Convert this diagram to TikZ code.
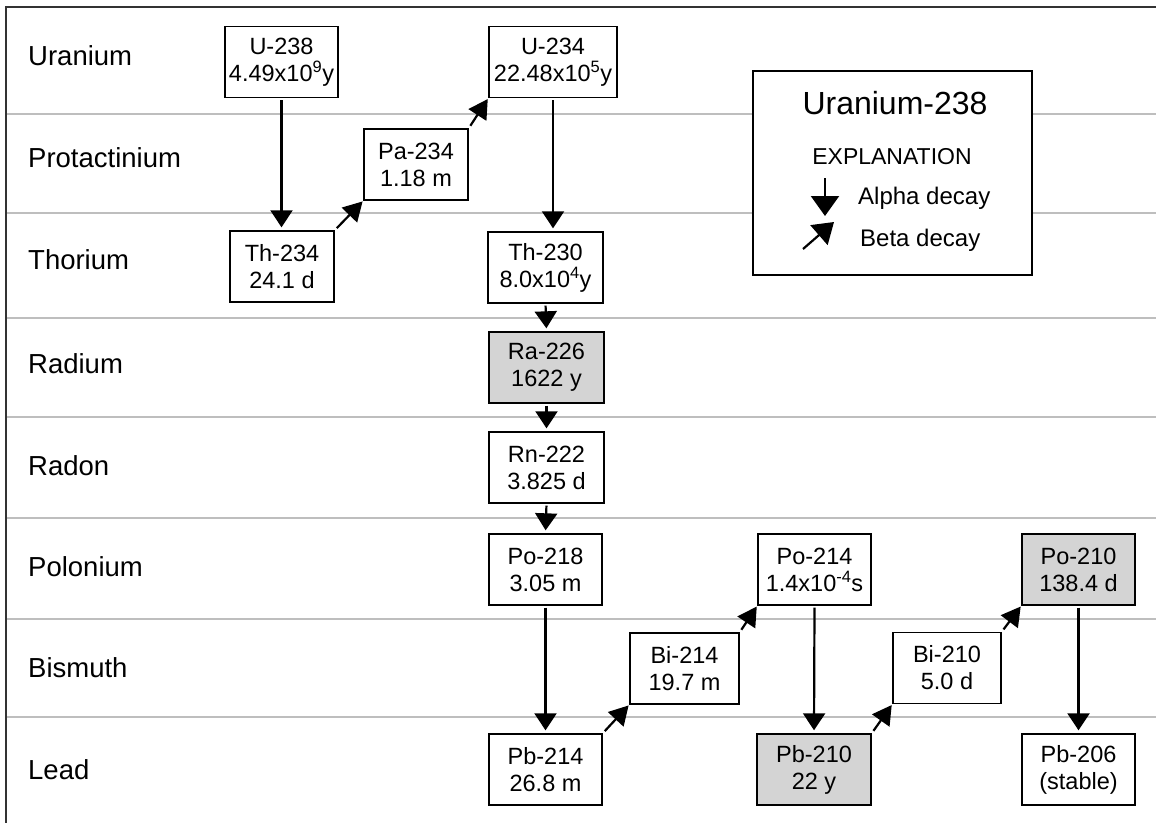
\documentclass[tikz,border=0pt]{standalone}
\usepackage{fontspec}
\setmainfont{Liberation Sans}
\usetikzlibrary{arrows.meta}

\definecolor{rowline}{RGB}{190,190,190}
\definecolor{isofill}{RGB}{212,212,212}

\begin{document}
\begin{tikzpicture}[x=1pt,y=1pt,yscale=-1,xscale=1,
  iso/.style={draw, line width=1.4pt, minimum height=71, inner sep=0pt, align=center, font=\fontsize{23.5}{27}\selectfont},
  hot/.style={iso, fill=isofill},
  alpha/.style={line width=2.2pt, -{Triangle[width=22pt,length=17pt]}, shorten <=2pt, shorten >=3pt},
  beta/.style={line width=2.2pt, -{Triangle[width=21pt,length=19pt]}, shorten <=3pt, shorten >=1pt},
  element/.style={anchor=west, inner sep=0pt, font=\fontsize{27.5}{30}\selectfont}]
\useasboundingbox (0,0) rectangle (1156,823);

%Rows
\foreach \yy in {114,213,318,417,518,619,717}
  \draw [rowline, line width=1.5pt] (6,\yy) -- (1156,\yy);
%Frame
\draw [line width=2pt, black!80] (1156,7) -- (6,7) -- (6,823);

% Element names
\node [element] (uranium) at (28,56) {Uranium};
\node [element] (protactinium) at (28,158) {Protactinium};
\node [element] (thorium) at (28,260) {Thorium};
\node [element] (radium) at (28,364) {Radium};
\node [element] (radon) at (28,466) {Radon};
\node [element] (polonium) at (28,567) {Polonium};
\node [element] (bismuth) at (28,668) {Bismuth};
\node [element] (lead) at (28,770) {Lead};

% Isotopes
\node [iso, minimum width=113] (U238) at (281.5,62) {U-238\\4.49x10\textsuperscript{9}y};
\node [iso, minimum width=128] (U234) at (553,62) {U-234\\22.48x10\textsuperscript{5}y};
\node [iso, minimum width=104] (Pa234) at (416,164.5) {Pa-234\\1.18 m};
\node [iso, minimum width=104] (Th234) at (282,266.5) {Th-234\\24.1 d};
\node [iso, minimum width=115] (Th230) at (545.5,267.5) {Th-230\\8.0x10\textsuperscript{4}y};
\node [hot, minimum width=115] (Ra226) at (546.5,367.5) {Ra-226\\1622 y};
\node [iso, minimum width=115] (Rn222) at (546.5,467.5) {Rn-222\\3.825 d};
\node [iso, minimum width=113] (Po218) at (545.5,569.5) {Po-218\\3.05 m};
\node [iso, minimum width=113] (Pb214) at (545.5,769.5) {Pb-214\\26.8 m};
\node [iso, minimum width=109] (Bi214) at (684.5,668.5) {Bi-214\\19.7 m};
\node [iso, minimum width=113] (Po214) at (814.5,569.5) {Po-214\\1.4x10\textsuperscript{-4}s};
\node [hot, minimum width=114] (Pb210) at (814,769.5) {Pb-210\\22 y};
\node [iso, minimum width=108] (Bi210) at (947,668) {Bi-210\\5.0 d};
\node [hot, minimum width=113] (Po210) at (1078.5,569.5) {Po-210\\138.4 d};
\node [iso, minimum width=113] (Pb206) at (1078.5,769.5) {Pb-206\\(stable)};

% Alpha decays
\draw [alpha] (U238.south) -- (U238.south |- Th234.north);
\draw [alpha] (U234.south) -- (U234.south |- Th230.north);
\draw [alpha] (Th230.south) -- (Ra226.north);
\draw [alpha] (Ra226.south) -- (Rn222.north);
\draw [alpha] (Rn222.south) -- (Po218.north);
\draw [alpha] (Po218.south) -- (Pb214.north);
\draw [alpha] (Po214.south) -- (Pb210.north);
\draw [alpha] (Po210.south) -- (Pb206.north);

% Beta decays
\draw [beta] (Th234.north east) -- (Pa234.south west);
\draw [beta] (Pa234.north east) -- (U234.south west);
\draw [beta] (Pb214.north east) -- (Bi214.south west);
\draw [beta] (Bi214.north east) -- (Po214.south west);
\draw [beta] (Pb210.north east) -- (Bi210.south west);
\draw [beta] (Bi210.north east) -- (Po210.south west);

% Explanation
\node [draw, line width=1.4pt, fill=white, minimum width=279, minimum height=204, inner sep=0pt] (legend) at (892.5,173) {};
\node [font=\fontsize{32}{36}\selectfont] (title) at (895,103) {Uranium-238};
\node [font=\fontsize{23}{26}\selectfont] (explain) at (892,157) {EXPLANATION};
\coordinate (atop) at (825,178);
\coordinate (abot) at (825,216);
\draw [line width=2.2pt, -{Triangle[width=28pt,length=20pt]}] (atop) -- (abot);
\node [anchor=west, inner sep=0pt, font=\fontsize{24}{28}\selectfont] (alphatext) at (858,198) {Alpha decay};
\coordinate (bstart) at (803,249);
\coordinate (bend) at (834,222);
\draw [line width=2.2pt, -{Triangle[width=26pt,length=20pt]}] (bstart) -- (bend);
\node [anchor=west, inner sep=0pt, font=\fontsize{24}{28}\selectfont] (betatext) at (860,240) {Beta decay};

\end{tikzpicture}
\end{document}
